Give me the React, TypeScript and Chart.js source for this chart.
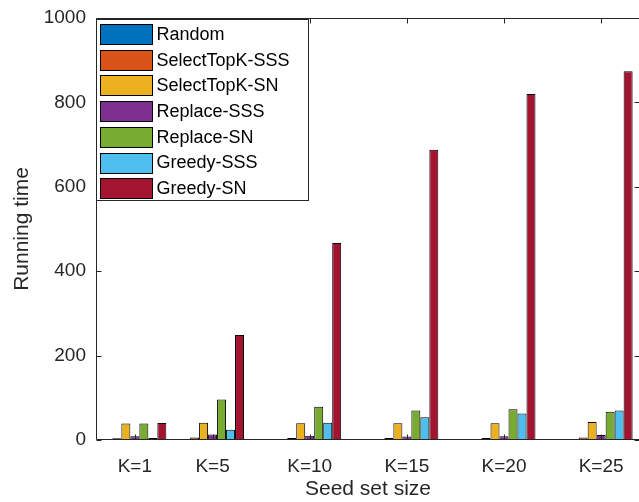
import React, { useEffect, useRef } from "react";
import { Chart, registerables } from "chart.js";

Chart.register(...registerables);

const kValues = [1, 5, 10, 15, 20, 25];
const seriesNames = [
  "Random",
  "SelectTopK-SSS",
  "SelectTopK-SN",
  "Replace-SSS",
  "Replace-SN",
  "Greedy-SSS",
  "Greedy-SN",
];
const random = [1.5, 2, 2, 2, 2, 2];
const selectTopKSSS = [4, 6, 5, 5, 5, 6];
const selectTopKSN = [39, 41, 39.5, 39.5, 39.5, 42.5];
const replaceSSS = [9, 13, 10, 8, 9, 12];
const replaceSN = [39, 96, 79, 70, 73, 67];
const greedySSS = [5, 24, 41, 54, 63, 70];
const greedySN = [40, 249, 467, 688, 820, 874];
const yTicks = [0, 200, 400, 600, 800, 1000];

const colors = ["#0072BD", "#D95319", "#EDB120", "#7E2F8E", "#77AC30", "#4DBEEE", "#A2142F"];
const FONT = "'Liberation Sans', Arial, Helvetica, sans-serif";
const AXIS = "#262626";

const boxPlugin = {
  id: "boxTicks",
  afterDatasetsDraw(chart: any) {
    const { ctx, chartArea, scales } = chart;
    const { left, right, top, bottom } = chartArea;
    const x = scales.x;
    const y = scales.y;
    const L = Math.round(left) + 0.5;
    const R = Math.round(right) - 0.5;
    const T = Math.round(top) + 0.5;
    const B = Math.round(bottom) - 0.5;
    ctx.save();
    ctx.strokeStyle = AXIS;
    ctx.lineWidth = 1;
    ctx.beginPath();
    ctx.moveTo(L, T);
    ctx.lineTo(R, T);
    ctx.lineTo(R, B);
    ctx.lineTo(L, B);
    ctx.closePath();
    ctx.stroke();
    const tl = 5;
    ctx.beginPath();
    kValues.forEach((k) => {
      const px = Math.round(x.getPixelForValue(k)) + 0.5;
      ctx.moveTo(px, B);
      ctx.lineTo(px, B - tl);
      ctx.moveTo(px, T);
      ctx.lineTo(px, T + tl);
    });
    yTicks.forEach((v) => {
      const py = Math.round(y.getPixelForValue(v)) + 0.5;
      ctx.moveTo(L, py);
      ctx.lineTo(L + tl, py);
      ctx.moveTo(R, py);
      ctx.lineTo(R - tl, py);
    });
    ctx.stroke();
    ctx.restore();
  },
  afterDraw(chart: any) {
    const { ctx, chartArea } = chart;
    const bx = Math.round(chartArea.left) + 0.5;
    const by = Math.round(chartArea.top) + 1.5;
    const bw = 212;
    const bh = 181;
    ctx.save();
    ctx.fillStyle = "#ffffff";
    ctx.fillRect(bx, by, bw, bh);
    ctx.strokeStyle = AXIS;
    ctx.lineWidth = 1;
    ctx.strokeRect(bx, by, bw, bh);
    ctx.font = `18px ${FONT}`;
    ctx.textBaseline = "middle";
    ctx.textAlign = "left";
    chart.data.datasets.forEach((ds: any, i: number) => {
      const cy = 34 + i * 25.7;
      const sx = bx + 4;
      const sy = Math.round(cy - 10) + 0.5;
      ctx.fillStyle = ds.backgroundColor;
      ctx.fillRect(sx, sy, 52, 20);
      ctx.strokeStyle = "#000000";
      ctx.strokeRect(sx, sy, 52, 20);
      ctx.fillStyle = "#000000";
      ctx.fillText(ds.label, sx + 56, cy + 1);
    });
    ctx.restore();
  },
};

export default function App() {
  const ref = useRef<HTMLCanvasElement | null>(null);
  useEffect(() => {
    if (!ref.current) return;
    const series = [random, selectTopKSSS, selectTopKSN, replaceSSS, replaceSN, greedySSS, greedySN];
    const chart = new Chart(ref.current, {
      type: "bar",
      data: {
        datasets: series.map((vals, i) => ({
          label: seriesNames[i],
          data: kValues.map((k, j) => ({ x: k, y: vals[j] })),
          backgroundColor: colors[i],
          borderColor: "#000000",
          borderWidth: 1,
          borderSkipped: false,
          categoryPercentage: 0.81,
          barPercentage: 1.0,
        })),
      },
      options: {
        responsive: false,
        animation: false,
        devicePixelRatio: 1,
        layout: { padding: { top: 18, right: 1, bottom: 0, left: 0 } },
        plugins: {
          legend: { display: false },
          tooltip: { enabled: false },
        },
        scales: {
          x: {
            type: "linear",
            min: -1,
            max: 27,
            offset: false,
            grid: { display: false },
            border: { display: false },
            afterBuildTicks: (scale: any) => {
              scale.ticks = kValues.map((v) => ({ value: v }));
            },
            afterFit: (scale: any) => {
              scale.height = 62;
            },
            ticks: {
              autoSkip: false,
              maxRotation: 0,
              padding: 7,
              color: AXIS,
              font: { family: FONT, size: 19 },
              callback: (v: any) => "K=" + v,
            },
            title: {
              display: true,
              text: "Seed set size",
              color: AXIS,
              font: { family: FONT, size: 21 },
              padding: { top: 0, bottom: 0 },
            },
          },
          y: {
            type: "linear",
            min: 0,
            max: 1000,
            grid: { display: false },
            border: { display: false },
            afterBuildTicks: (scale: any) => {
              scale.ticks = yTicks.map((v) => ({ value: v }));
            },
            afterFit: (scale: any) => {
              scale.width = 96;
            },
            ticks: {
              padding: 2,
              color: AXIS,
              font: { family: FONT, size: 19 },
              callback: (v: any) => String(v),
            },
            title: {
              display: true,
              text: "Running time",
              color: AXIS,
              font: { family: FONT, size: 21 },
              padding: { top: 10, bottom: 0 },
            },
          },
        },
      },
      plugins: [boxPlugin],
    });
    return () => chart.destroy();
  }, []);
  return (
    <div
      style={{
        position: "fixed",
        left: 0,
        top: 0,
        width: 639,
        height: 502,
        overflow: "hidden",
        background: "#ffffff",
      }}
    >
      <canvas ref={ref} width={641} height={502} style={{ display: "block" }} />
    </div>
  );
}
